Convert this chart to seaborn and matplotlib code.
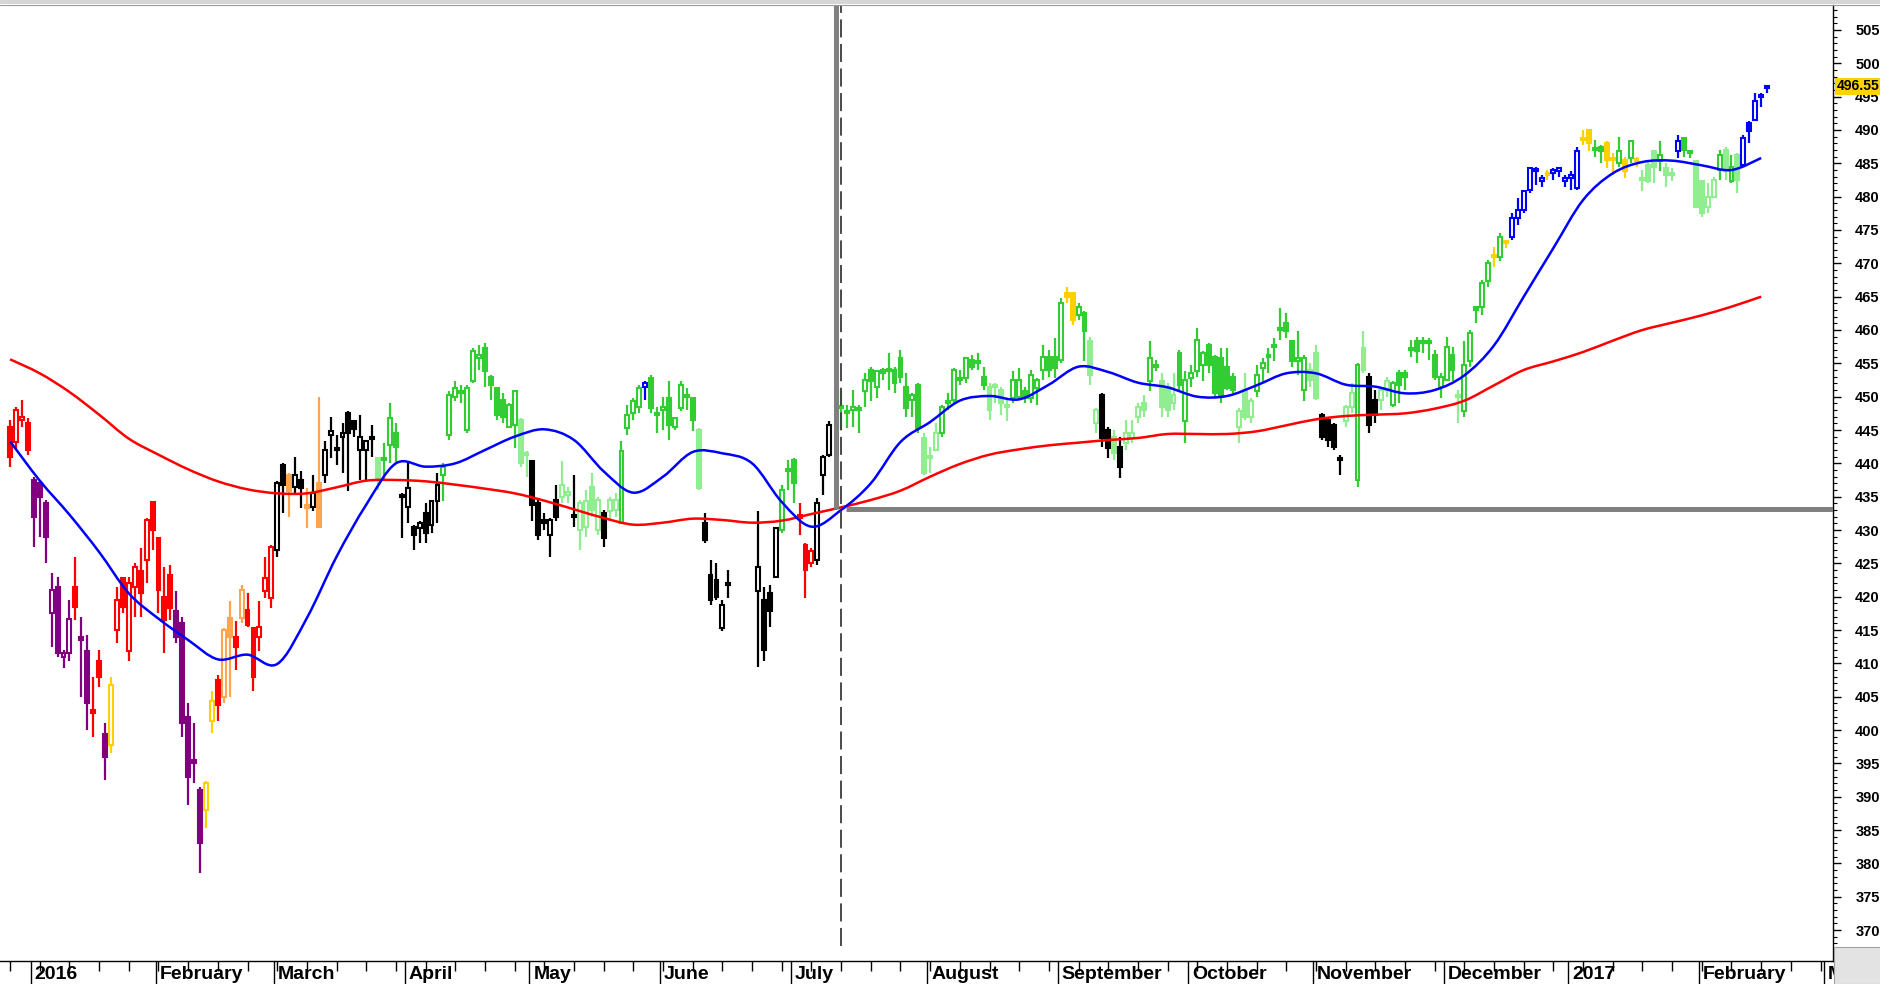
import numpy as np
import pandas as pd
import matplotlib
matplotlib.use("Agg")
import matplotlib.pyplot as plt
from matplotlib import font_manager
from matplotlib.patches import Rectangle, PathPatch
from matplotlib.path import Path
from matplotlib.lines import Line2D
from matplotlib.ticker import MultipleLocator
import seaborn as sns

# Daily bars, one per trading day (None = no bar in that slot)
opens = [
    445.5, 443.2, 446.5, 446, 437.5, 437, 434, 417.5, 421.5, 411,
    411.5, 421.5, 414, 411.8, 403, 410.3, 399.4, 397.8, 415, 422.8,
    411.8, 421.5, 423.8, 425.5, 434.2, 428.8, 420, 423.2, 417.8, 416,
    402, 395.5, 391, 388, 401.3, 407.5, 405, 416.8, 414, 416.8,
    418, 415.3, 414, 420.8, 419.8, 427, 439.8, 438.3, 436.5, 437.5,
    433.7, 433.5, 437, 438.3, 444.3, 442.3, 444, 447.6, 446.3, 442,
    442, 443.8, 440.8, 440.5, 442.8, 444.5, 435.3, 433.5, 430.5, 430.3,
    432.5, 430.8, 434.3, 438.3, 444.3, 450, 450.5, 445, 452.3, 455.8,
    457.3, 453, 451.3, 449.5, 445.5, 445.8, 446.5, 441.3, 440.3, 434,
    431.5, 429.3, 434.5, 435, 435.3, 432, 430, 430.5, 436.5, 430,
    432.6, 432.8, 433, 431, 445.3, 447.5, 448.5, 451.5, 452.8, 447.3,
    448, 449.8, 445.5, 448.3, 450, 449.8, 445, 431, 423.3, 422.5,
    415.3, 422, None, None, None, None, 420.8, 419.5, 420.5, 423,
    430, 438.8, 440.5, 431.8, 427.8, 425, 425.5, 438.3, 441.3, None,
    448.3, 447.5, 448, 448, 450.8, 454, 451.5, 454, 453.8, 454,
    455.8, 451.5, 449.5, 451.8, 443.8, 440.8, 442, 444.5, 449, 449.5,
    452.5, 452.8, 455.5, 455, 453, 451.5, 451.5, 451, 448.5, 449.8,
    450, 450.8, 449.8, 451.3, 454, 456, 456, 455.5, 465.5, 465.5,
    462.3, 462.5, 458.3, 446, 450.3, 445, 444, 442.5, 443, 443.8,
    447, 449, 452.3, 454.5, 452.3, 451.5, 449, 456.5, 446.3, 452.8,
    453.8, 454.8, 457.8, 456, 455.8, 454.5, 453, 445.5, 451, 447,
    450.8, 454.3, 456, 457.5, 460, 461, 458.3, 455.3, 451, 454,
    456.5, 447.3, 446.5, 445.8, 440.8, 446.3, 448.5, 437.5, 457.3, 453,
    449.5, 449.5, 451, 448.8, 453.5, 453.5, 457, 458.3, 458, 458,
    456.3, 451.5, 452.5, 456.3, 450, 447.8, 455.3, 463.5, 463.5, 467.3,
    471, 471, 473, 474, 476.8, 478, 481, 483.8, 482.3, 483.3,
    483.5, 483.8, 482.3, 482.8, 481.3, 488.5, 490, 487, 487.5, 488,
    485.5, 485, 485.5, 485.8, 485.3, 482.5, 484.8, 486.8, 485.3, 484.3,
    483.3, 486.8, 488.8, 486.5, 485.3, 482.3, 478.5, 480, 484, 487,
    482.3, 486.3, 484.8, 491, 491.5, 495, 496.3,
]
highs = [
    446.5, 448.5, 449.5, 446.8, 438, 437.5, 434.5, 423.5, 423, 412,
    419.5, 426, 417, 414.3, 408, 412, 401, 408, 421.5, 423,
    423, 425, 427.3, 431.8, 434.3, 429, 424.5, 424.8, 420.8, 417,
    404, 401, 391.5, 392.3, 405.8, 408.3, 415.3, 419.3, 416.3, 421.8,
    420.5, 415.5, 419.3, 426, 427.8, 437.3, 440, 438.5, 440.9, 438.8,
    436.3, 438.3, 450, 443.3, 447, 444.3, 446, 447.8, 446.5, 447.3,
    443.5, 445.8, 441, 443, 449, 446, 435.5, 440, 430.8, 431.3,
    434, 434.3, 438.5, 440, 450.8, 452.3, 451.8, 451.8, 457.3, 457.8,
    458, 453.3, 451.5, 450.5, 449, 451, 446.8, 441.8, 440.5, 434.5,
    432.5, 431.8, 436.8, 440.3, 436.5, 438.3, 434.5, 436, 438.5, 435,
    433, 435, 435.5, 443.3, 448.8, 449.8, 451.8, 452.3, 453.3, 448.5,
    450, 452.3, 447, 452.3, 451.3, 450, 445.3, 432.5, 425.5, 425,
    419.5, 424, None, None, None, None, 432.8, 421.5, 421.8, 430.5,
    436.8, 440.5, 440.8, 434, 428, 427.3, 434.8, 441.3, 446.3, None,
    451, 448.8, 451, 448.8, 453.5, 454.5, 454, 454.3, 456.5, 454.5,
    457, 453.5, 450.5, 452, 444.5, 442.5, 446, 448.8, 450.5, 454.3,
    454, 456, 456.3, 456.5, 454.5, 452, 452, 451.5, 449.5, 453.8,
    454.3, 451.5, 454, 452.8, 457.8, 457, 458.8, 464.8, 466.5, 465.5,
    464, 462.8, 459, 448.3, 450.5, 445.5, 445, 444, 446.5, 446.5,
    449, 450.3, 458.3, 455.5, 453.5, 452, 453.5, 457, 453.8, 454.8,
    460.3, 456.8, 458, 456.3, 457.3, 457.3, 453.5, 448.3, 453.5, 449.8,
    454.8, 455.8, 457.3, 458.8, 463.3, 462.5, 458.5, 459.8, 456.3, 455,
    457.8, 447.5, 447, 446, 441.3, 448.8, 452, 455, 459.8, 453.5,
    451, 451.5, 453, 452.3, 454, 454, 458.5, 459, 459, 458.8,
    457, 453.5, 459, 457.5, 451, 458.3, 460, 463.5, 467.5, 470.5,
    472.5, 474.5, 473.5, 477.5, 479.8, 481, 484.5, 484.5, 483.3, 484,
    484.3, 484.5, 483.3, 483.8, 487.5, 490, 490, 488.5, 487.8, 488.3,
    486.5, 489, 486, 488.5, 486, 484, 485.5, 487, 488.3, 485,
    484.3, 489.3, 489, 487, 485.5, 482.5, 482, 483, 487, 487.5,
    486.3, 486.5, 489.3, 491.3, 495.5, 495.5, 496.8,
]
lows = [
    439.5, 442, 445.5, 441.3, 427.5, 429, 425, 412.5, 411, 409.3,
    410.3, 416.5, 405, 400, 399, 406.5, 392.5, 396.5, 413, 417.5,
    410.3, 417, 417, 422, 427, 417.5, 411.5, 416.5, 413, 399,
    388.8, 392, 378.5, 385.3, 399.5, 401.3, 404, 405, 409, 416,
    415.5, 405.8, 411.8, 419.8, 418.3, 426, 432.5, 432, 435.3, 433.3,
    430.3, 432.8, 430.3, 437, 440.8, 439.8, 438.5, 435.8, 444, 437.5,
    437.5, 441, 436, 437.5, 440, 440, 428.8, 431, 427, 428,
    428, 429.5, 431, 434.3, 443.5, 449.3, 449, 444.5, 452, 454,
    451.5, 449.5, 446.5, 446, 445.5, 442.3, 439.5, 438, 431.3, 428.5,
    430, 426, 431.3, 434, 434, 430.5, 427, 429, 432, 429.3,
    427.5, 431.5, 432, 431, 444.3, 446.5, 447.5, 449.5, 447.5, 444.5,
    445, 443.5, 445, 447.8, 448, 444.8, 436, 428, 418.8, 419.5,
    414.8, 419.8, None, None, None, None, 409.5, 410.3, 415.5, 422.8,
    429.5, 436, 434, 429.3, 419.8, 424.5, 424.8, 435.3, 441, None,
    445, 445.3, 445.5, 444.5, 448.5, 449.3, 449.8, 452.5, 451, 450.5,
    452, 447, 447, 444.5, 438.3, 438.5, 441.8, 444, 448, 449,
    451.8, 452, 454, 454, 451, 446.5, 449, 447.3, 446.3, 449,
    449.5, 449, 449, 448.8, 452.5, 453, 452.8, 455, 464, 460.8,
    461.5, 455.3, 451.8, 444.5, 442.5, 440.8, 440.5, 437.8, 442, 443,
    446, 447, 450.8, 453.8, 447, 447, 448, 451, 443, 451.5,
    453, 452.3, 453.5, 450, 449, 451, 450.5, 443, 446.5, 446,
    450, 452, 453.5, 455.3, 458.5, 458.8, 454.5, 453.3, 449.3, 451.5,
    449.5, 443.5, 442.5, 442, 438.3, 445.5, 447.5, 436.5, 453.5, 444.5,
    446, 448, 450, 448.5, 449, 451, 456, 455, 456.5, 455.5,
    452.5, 449.8, 452.5, 452.3, 446, 447, 454.5, 461, 462.3, 466.5,
    469.5, 470.3, 472.3, 473.5, 475.8, 477.5, 480.5, 481.8, 481.5, 482.5,
    482.5, 483, 481.5, 481, 481, 487.8, 486.8, 486, 485, 484.3,
    483.3, 484.5, 482.8, 485, 484.5, 480.8, 482, 482, 483.8, 481.5,
    482.3, 485.8, 486, 485.8, 478.3, 477, 477.5, 479.8, 482.5, 482.5,
    482, 480.5, 484.5, 488, 491.3, 493.5, 495.5,
]
closes = [
    441, 448, 447, 442, 432, 435, 429, 421, 411.5, 411.5,
    416.7, 418.5, 413.5, 404, 402.5, 408, 396, 406.8, 419.5, 418.5,
    422, 424.5, 420.5, 431.5, 430, 421, 416.5, 418.3, 414, 401,
    393, 395, 383, 392, 404.3, 403.8, 415, 414, 412.5, 421,
    415.8, 408, 415.5, 422.8, 427.5, 437, 436.8, 435.8, 438.3, 436.3,
    433.3, 435.5, 430.5, 442, 444.8, 442, 444.5, 444.5, 445.1, 444,
    443.3, 443.7, 437.5, 440.8, 446.8, 442.5, 435, 436.3, 429.3, 431.1,
    429.5, 434.3, 436.8, 439.5, 450.3, 451.3, 450.8, 451.3, 456.8, 456.3,
    453.8, 451.8, 447.3, 447, 448.8, 450.8, 440, 441.5, 433.8, 429.3,
    431, 431.5, 432, 436.8, 435.7, 432.3, 434, 434.3, 433, 434.5,
    428.8, 434.5, 434.5, 441.8, 447.3, 449.3, 451.3, 452, 448.3, 447.5,
    448.5, 445.8, 446.8, 451.8, 450.3, 446.5, 436.3, 428.5, 419.5, 420,
    418.8, 421.8, None, None, None, None, 424.5, 412, 417.8, 430.3,
    436, 439, 437, 432.3, 424, 426.8, 434, 441, 445.8, None,
    448.5, 447.6, 448.5, 448, 452.5, 452.3, 453.8, 453.5, 453.8, 452,
    453, 448.3, 450.3, 445.3, 438.5, 440.8, 444.5, 448.5, 449.3, 454,
    452.8, 455.8, 454.5, 455, 451.8, 448, 451.8, 449, 448.5, 452.5,
    452.5, 449.8, 453.3, 452.5, 456, 454, 454.3, 464, 465, 461.5,
    463.5, 459.8, 453.3, 448, 443.8, 442.3, 441.5, 439.5, 444.5, 444.5,
    448.5, 448, 455.8, 454.5, 448.5, 448, 450.3, 451.8, 452.5, 453.5,
    458.5, 456.5, 454.8, 450.5, 450, 451.3, 451, 447.8, 447, 449.3,
    453.3, 455, 456.3, 457.5, 460, 459.8, 455.3, 455.8, 455.8, 452.5,
    449.8, 444, 443.5, 442.5, 440.5, 448.5, 450.5, 454.8, 454, 445.8,
    447.3, 451, 452.3, 452, 451.8, 453, 457.2, 456.8, 458.3, 458.3,
    453, 453, 457.5, 454, 450.3, 454.8, 459.5, 463, 467, 470,
    471, 474, 473, 476.8, 478, 480.8, 484.3, 483.8, 482.8, 483.3,
    484, 484.3, 482.8, 483.3, 486.8, 488.5, 488, 487.3, 486.8, 485.5,
    485.5, 486.8, 483.8, 488.3, 485.3, 482.5, 482.3, 484.5, 486.3, 483.3,
    483.3, 488.3, 487, 486.5, 478.5, 477.5, 480, 482.5, 486.3, 483.8,
    484.5, 482.5, 488.8, 489.8, 494.3, 495.3, 496.55,
]
# colour state of each bar (. = empty slot)
tones = ("RRRRPPPPPP" "PRPPRRPYRR" "RRRRRRRRPP" "PPPYYROORO" "RRRRRKKOKK"
         "OKOKKKKKKK" "KKLGGGKKKK" "KKKGGGGGGG" "GGGGGGLLKK" "KKKLLKLLLL"
         "KLLGGGGBGG" "GGGGGGLKKK" "KK....KKKK" "GGGRRRKKK." "GGGGGGGGGG"
         "GGGGLLLGGG" "GGGGGLLLLG" "GGGGGGGGYY" "GGLLKKLKLL" "LLGGLLLGGG"
         "GGGGGGGLLL" "GGGGGGGGGL" "LKKKKLLGLK" "KLLGGGGGGG" "GGGGLGGGGG"
         "YGYBBBBBBY" "BBBBBYYGGY" "YGYGYLLLGL" "LBGGLLLLGL" "GLBBBBB")

tone_colors = {"P": "#800080", "R": "#FF0000", "O": "#FFA54F", "Y": "#FFD000",
               "K": "#000000", "G": "#32CD32", "L": "#90EE90", "B": "#0000FF"}

# moving averages, one reading every 5 bars
ma_step = 5
ma_fast = [443.3, 437.4, 432.3, 426.7, 420.5, 416.7, 413.5, 410.6, 411.3, 409.9,
           416.8, 426.0, 433.8, 440.0, 439.5, 440.0, 442.0, 444.0, 445.1, 443.5,
           438.8, 435.6, 438.0, 441.7, 441.5, 440.0, 434.2, 430.5, 433.0, 437.0,
           443.2, 446.2, 449.4, 450.1, 449.6, 451.8, 454.5, 453.7, 452.1, 451.4,
           450.0, 450.1, 451.7, 453.5, 453.5, 451.8, 451.5, 450.5, 451.0, 453.2,
           457.7, 465.0, 472.3, 479.5, 483.5, 485.2, 485.4, 484.7, 484.0, 485.8]
ma_slow = [455.6, 453.5, 450.7, 447.3, 443.7, 441.3, 439.1, 437.3, 436.1, 435.5,
           435.5, 436.4, 437.4, 437.5, 437.3, 436.8, 436.2, 435.5, 434.4, 433.1,
           431.8, 430.8, 431.1, 431.7, 431.5, 431.1, 431.4, 432.4, 433.4, 434.5,
           435.9, 438.0, 439.9, 441.3, 442.1, 442.7, 443.1, 443.5, 443.8, 444.4,
           444.4, 444.4, 444.8, 445.7, 446.6, 447.1, 447.3, 447.5, 448.2, 449.4,
           451.7, 454.0, 455.3, 456.7, 458.4, 460.0, 461.1, 462.2, 463.5, 465.0]

month_labels = ["2016", "February", "March", "April", "May", "June", "July", "August",
                "September", "October", "November", "December", "2017", "February", "M"]
month_starts = [4, 25, 45, 67, 88, 110, 132, 155, 177, 199, 220, 242, 263, 285, 306]

last_price = 496.55
marker_level = 433.2
marker_bar = 139

assert len(opens) == len(highs) == len(lows) == len(closes) == len(tones)

sns.set_style("white")
plt.rcParams["font.family"] = ["Liberation Sans", "DejaVu Sans"]
plt.rcParams["text.color"] = "black"

names = {f.name for f in font_manager.fontManager.ttflist}
if "Liberation Sans Narrow" in names:
    month_font, month_size = ["Liberation Sans Narrow", "DejaVu Sans"], 17
else:
    month_font, month_size = ["Liberation Sans", "DejaVu Sans"], 14


def curve(xs, ys):
    # smooth line through the readings (Catmull-Rom drawn as Bezier segments)
    p = np.column_stack([xs, ys]).astype(float)
    verts, codes = [p[0]], [Path.MOVETO]
    n = len(p)
    for i in range(n - 1):
        p0, p1, p2, p3 = p[max(i - 1, 0)], p[i], p[i + 1], p[min(i + 2, n - 1)]
        verts += [p1 + (p2 - p0) / 6, p2 - (p3 - p1) / 6, p2]
        codes += [Path.CURVE4] * 3
    return Path(verts, codes)


W, H = 1881, 984
fig = plt.figure(figsize=(W / 100, H / 100), dpi=100)
ax = fig.add_axes([0, 23 / H, 1833 / W, 956 / H])
x_lo, x_hi = -1.7, 307.1
y_lo, y_hi = 365.35, 508.75

bars = pd.DataFrame({"open": opens, "high": highs, "low": lows, "close": closes,
                     "tone": list(tones)})
bars["x"] = np.arange(len(bars))
for r in bars.dropna().itertuples():
    c = tone_colors[r.tone]
    ax.vlines(r.x, r.low, r.high, color=c, lw=1.6, zorder=2)
    lo, hi = min(r.open, r.close), max(r.open, r.close)
    face = "white" if r.close > r.open else c
    ax.bar(r.x, max(hi - lo, 0.3), bottom=lo, width=0.66, facecolor=face,
           edgecolor=c, linewidth=1.5, zorder=3)

ma = pd.DataFrame({"x": np.arange(len(ma_fast)) * ma_step, "fast": ma_fast, "slow": ma_slow})
# seaborn sets up the series; the visible stroke is the smoothed path
sns.lineplot(data=ma, x="x", y="slow", color="#FF0000", lw=0, ax=ax)
sns.lineplot(data=ma, x="x", y="fast", color="#0000FF", lw=0, ax=ax)
ax.add_patch(PathPatch(curve(ma["x"], ma["slow"]), fill=False, edgecolor="#FF0000",
                       lw=1.8, zorder=4))
ax.add_patch(PathPatch(curve(ma["x"], ma["fast"]), fill=False, edgecolor="#0000FF",
                       lw=1.8, zorder=4))
ax.set_xlabel("")
ax.set_ylabel("")

# grey cross-hair and dashed date line
ax.plot([marker_bar + 0.2] * 2, [marker_level, y_hi], color="#808080", lw=3.6,
        solid_capstyle="butt", zorder=5)
ax.plot([marker_bar + 1.8, x_hi], [marker_level] * 2, color="#808080", lw=3.6,
        solid_capstyle="butt", zorder=5)
ax.plot([marker_bar + 1.05] * 2, [367.6, y_hi], color="#3c3c3c", lw=1.3,
        linestyle=(0, (10, 3.6)), zorder=5)

ax.set_xlim(x_lo, x_hi)
ax.set_ylim(y_lo, y_hi)

# right price axis
ax.yaxis.tick_right()
ax.set_yticks(np.arange(370, 506, 5))
ax.yaxis.set_minor_locator(MultipleLocator(1))
ax.tick_params(axis="y", which="major", right=True, direction="out", length=6,
               width=1, pad=10, labelsize=10.5, colors="black")
ax.tick_params(axis="y", which="minor", right=True, direction="out", length=3, width=0.8,
               colors="black")
plt.setp(ax.yaxis.get_majorticklabels(), fontweight="bold")

# date axis
ax.set_xticks(np.arange(0, 307, 5))
ax.set_xticklabels([])
ax.tick_params(axis="x", which="major", bottom=True, direction="out", length=7, width=1,
               colors="black")
xt = ax.get_xaxis_transform()
for start, lab in zip(month_starts, month_labels):
    ax.plot([start - 0.5] * 2, [0, -0.04], transform=xt, color="black", lw=1, clip_on=False)
    ax.text(start + 0.15, -0.0145, lab, transform=xt, ha="left", va="center",
            fontsize=month_size, fontweight="bold", family=month_font, clip_on=False)

for side in ["left", "top"]:
    ax.spines[side].set_visible(False)
for side in ["right", "bottom"]:
    ax.spines[side].set_color("black")
    ax.spines[side].set_linewidth(1)

ax.text(1.002, last_price, f"{last_price:.2f}", transform=ax.get_yaxis_transform(),
        ha="left", va="center", fontsize=10, fontweight="bold", zorder=10, clip_on=False,
        bbox=dict(boxstyle="square,pad=0.12", fc="#FFD200", ec="none"))

# window chrome: top strip and bottom-right corner
fig.add_artist(Rectangle((0, 1 - 4 / H), 1, 4 / H, transform=fig.transFigure,
                         fc="#D6D6D6", ec="none", zorder=5))
fig.add_artist(Line2D([0, 1], [1 - 4.5 / H] * 2, transform=fig.transFigure,
                      color="#9A9A9A", lw=0.8, zorder=6))
fig.add_artist(Rectangle((1834 / W, 0), (W - 1834) / W, 37 / H, transform=fig.transFigure,
                         fc="#E3E3E3", ec="#A0A0A0", lw=0.8, zorder=5))

fig.savefig("out.png", dpi=100, facecolor="white")
